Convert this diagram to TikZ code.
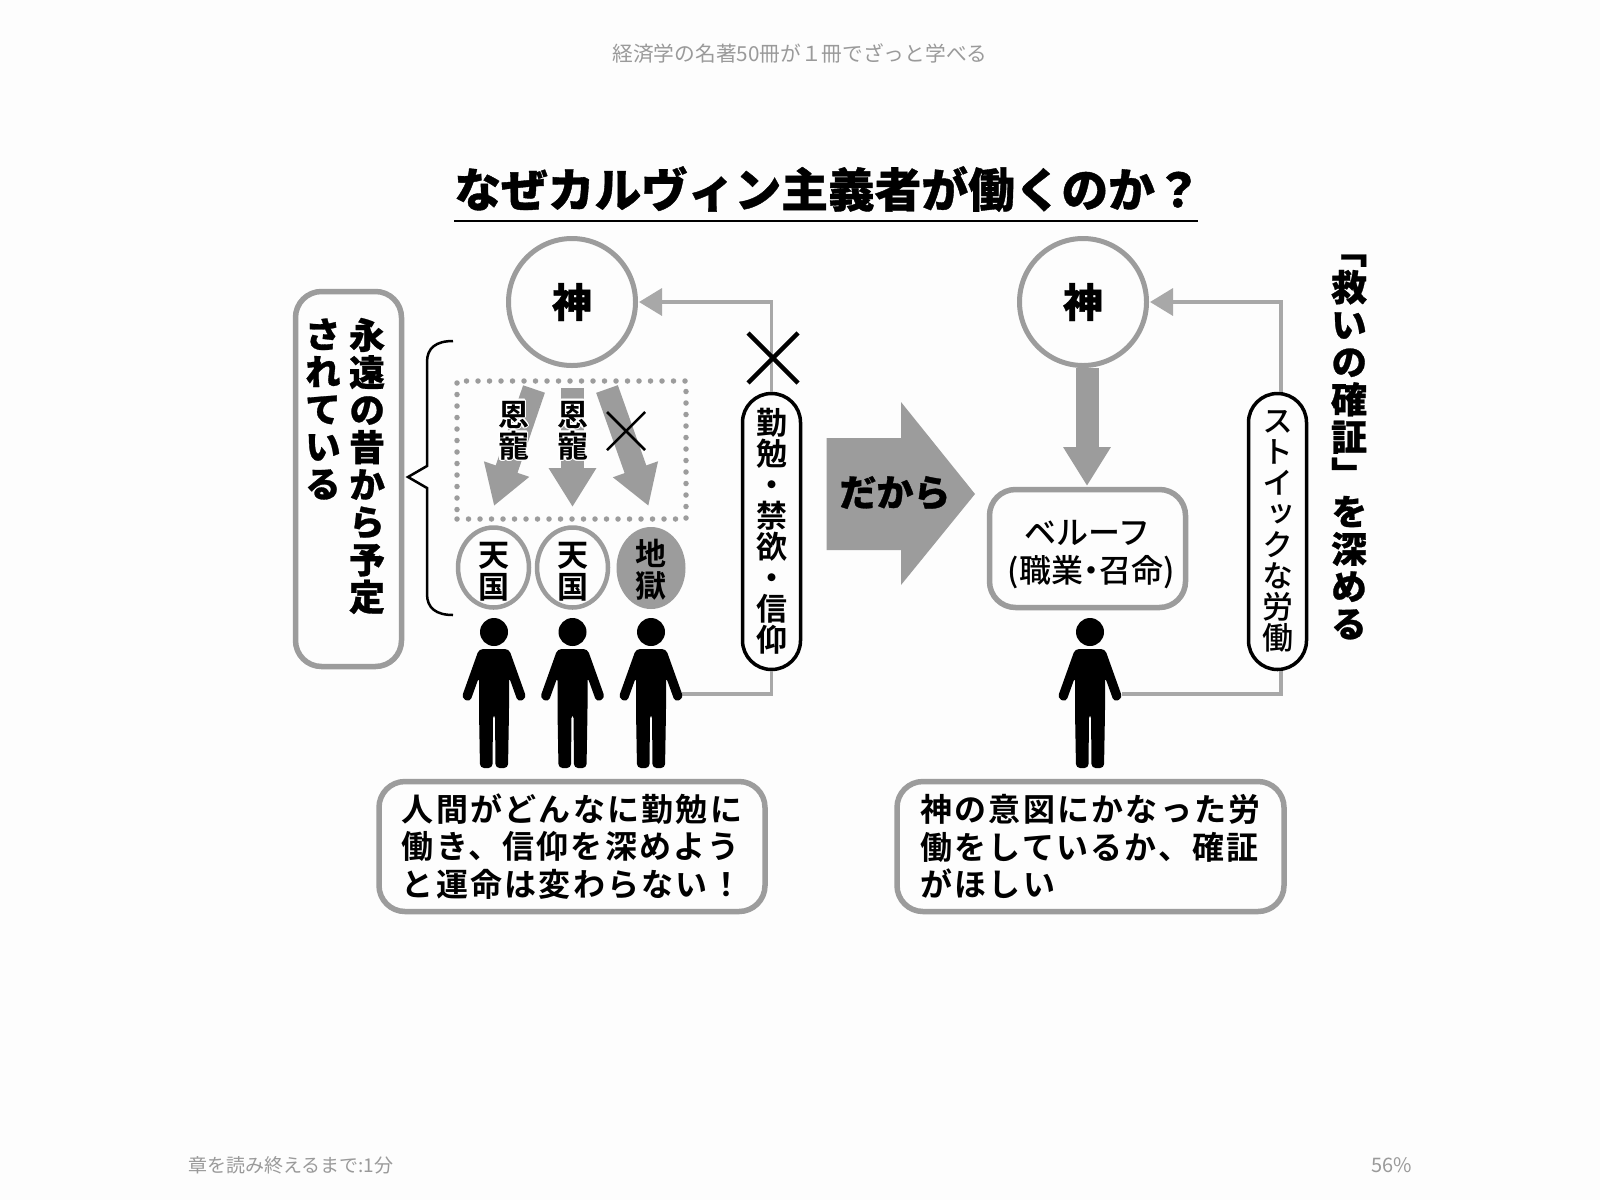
\documentclass[tikz,border=0pt]{standalone}
\usepackage{fontspec}
\usepackage[copies]{contour}
\usetikzlibrary{calc}
\usetikzlibrary{shapes.geometric}
\usepgflibrary{arrows.meta}
\newfontfamily\jpr{Noto Sans CJK JP}
\newfontfamily\jpm{Noto Sans CJK JP Medium}
\newfontfamily\jpw[LetterSpace=7]{Noto Sans CJK JP Bold}
\newfontfamily\jpk[FakeBold=0.8]{Noto Sans CJK JP Black}
\newfontfamily\jpmv[RawFeature={+vert}]{Noto Sans CJK JP Medium}
\newfontfamily\jpbv[RawFeature={+vert}]{Noto Sans CJK JP Bold}
\newfontfamily\jpkv[RawFeature={+vert},FakeBold=0.8]{Noto Sans CJK JP Black}
\definecolor{bgc}{HTML}{FDFDFD}
\definecolor{linec}{HTML}{9C9C9C}
\definecolor{thinc}{HTML}{A8A8A8}
\definecolor{pagec}{HTML}{9A9A9A}
\lineskiplimit=-1000pt
\contourlength{1.3pt}
\tikzset{
  pagelabel/.style={inner sep=0pt, text=pagec, font=\jpr\fontsize{20.7}{24}\selectfont},
  godcircle/.style={draw=linec, line width=5pt, circle, fill=bgc, minimum size=127pt, inner sep=0pt, font=\jpk\fontsize{40}{40}\selectfont},
  grayframe/.style={draw=linec, line width=5.5pt, rounded corners=26pt, inner sep=0pt},
  pillframe/.style={draw=black, line width=3.5pt, fill=bgc, rounded corners=29pt, minimum width=58pt, minimum height=276pt, inner sep=0pt, align=center, font=\jpbv\fontsize{31}{31}\selectfont},
  stacksmall/.style={inner sep=0pt, align=center, font=\jpbv\fontsize{31}{31}\selectfont},
  stackbig/.style={inner sep=0pt, align=center, font=\jpkv\fontsize{36}{37.4}\selectfont},
  heavenoval/.style={draw=linec, line width=4.5pt, ellipse, fill=bgc, minimum width=71pt, minimum height=80pt, inner xsep=0pt, inner ysep=-12pt, align=center, font=\jpbv\fontsize{31}{31.5}\selectfont},
  blockarrow/.style={draw=linec, line width=23pt, -{Triangle[length=39pt,width=45pt]}},
  thinarrow/.style={draw=thinc, line width=3.5pt, -{Triangle[length=23pt,width=27pt]}, shorten >=1pt},
  thinline/.style={draw=thinc, line width=3.5pt},
  person/.pic={
    \path[fill=black] (0, -17) circle[radius=14pt];
    \path[fill=black, rounded corners=4pt] (-15, 0) -- (15, 0) -- (32.5, 49) -- (24, 53) -- (15, 28) -- (15, 62) -- (14, 119) -- (1.5, 119) -- (1, 65) -- (-1, 65) -- (-1.5, 119) -- (-14, 119) -- (-15, 62) -- (-15, 28) -- (-24, 53) -- (-32.5, 49) -- cycle;
  }
}

\begin{document}
\begin{tikzpicture}[x=1pt, y=-1pt]
    \path[use as bounding box, fill=bgc] (0, 0) rectangle (1600, 1200);

    \node[pagelabel] (pagetitle) at (800, 54) {経済学の名著50冊が１冊でざっと学べる};
    \node[pagelabel, anchor=west, font=\jpr\fontsize{19}{24}\selectfont] (pageleft) at (188, 1165) {章を読み終えるまで:1分};
    \node[pagelabel, anchor=east, font=\jpr\fontsize{20}{24}\selectfont] (pageright) at (1412, 1165) {56\%};

    \node[inner sep=0pt, font=\jpk\fontsize{46.7}{47}\selectfont] (heading) at (828, 189) {なぜカルヴィン主義者が働くのか？};
    \path[draw, line width=2pt] (454, 220.5) -- (1198, 220.5);

    \coordinate (armleft) at (682, 694);
    \coordinate (armright) at (1122, 694);

    \node[godcircle] (godleft) at (572, 302) {神};
    \node[godcircle] (godright) at (1083, 302) {神};

    \node[pillframe] (pillleft) at (771.5, 531.5) {勤\\勉\\・\\禁\\欲\\・\\信\\仰};
    \node[pillframe, font=\jpmv\fontsize{31}{31}\selectfont] (pillright) at (1277.5, 531.5) {ス\\ト\\イ\\ッ\\ク\\な\\労\\働};

    \path[thinarrow] (771.5, 392) |- (godleft.east);
    \path[thinarrow] (1281, 392) |- (godright.east);
    \path[thinline] (armleft) -| (pillleft.south);
    \path[thinline] (armright) -| (1281, 671);

    \path[draw, line width=4.5pt] (773, 358) +(-25, -25) -- +(25, 25) +(-25, 25) -- +(25, -25);

    \node[grayframe, minimum width=106pt, minimum height=375pt] (eternalbox) at (348.5, 479) {};
    \node[stackbig] (eternalone) at (367, 466) {永\\遠\\の\\昔\\か\\ら\\予\\定};
    \node[stackbig] (eternaltwo) at (323, 409) {さ\\れ\\て\\い\\る};

    \path[draw, line width=2.5pt] (453, 341) .. controls (436, 341) and (427, 348) .. (427, 362) -- (427, 466) -- (408, 477) -- (427, 488) -- (427, 594) .. controls (427, 608) and (436, 615) .. (453, 615);

    \node[draw=linec, line width=5.5pt, line cap=round, dash pattern=on 0pt off 11.5pt, minimum width=229pt, minimum height=138pt, inner sep=0pt] (gracebox) at (571.5, 450) {};

    \coordinate (graceatop) at (534, 389);
    \coordinate (graceatip) at (494, 506);
    \coordinate (gracebtop) at (572.5, 388);
    \coordinate (gracebtip) at (572.5, 507);
    \coordinate (gracectop) at (607, 389);
    \coordinate (gracectip) at (648.5, 506);
    \path[blockarrow] (graceatop) -- (graceatip);
    \path[blockarrow] (gracebtop) -- (gracebtip);
    \path[blockarrow] (gracectop) -- (gracectip);

    \node[stacksmall] (gracea) at (513.5, 431) {\contour{white}{恩}\\\contour{white}{寵}};
    \node[stacksmall] (graceb) at (572.5, 431) {\contour{white}{恩}\\\contour{white}{寵}};
    \path[draw, line width=2.5pt] (626, 431) +(-19, -19) -- +(19, 19) +(-19, 19) -- +(19, -19);

    \node[heavenoval] (heavena) at (493.5, 567.5) {\rule{0pt}{33pt}天\\国};
    \node[heavenoval] (heavenb) at (572.5, 567.5) {\rule{0pt}{33pt}天\\国};
    \node[heavenoval, draw=none, fill=linec, minimum width=69pt, minimum height=82pt] (hell) at (651, 568) {\rule{0pt}{30pt}地\\獄};

    \path (494, 649) pic {person};
    \path (572.5, 649) pic {person};
    \path (651, 649) pic {person};
    \path (1090, 649) pic {person};

    \node[grayframe, minimum width=386pt, minimum height=130pt, align=left, font=\jpw\fontsize{32}{37.5}\selectfont] (noteleft) at (572, 846.5) {人間がどんなに勤勉に\\働き、信仰を深めよう\\と運命は変わらない！};
    \node[grayframe, minimum width=387pt, minimum height=130pt, align=left, font=\jpw\fontsize{32}{37.5}\selectfont] (noteright) at (1090.5, 846.5) {神の意図にかなった労\\働をしているか、確証\\がほしい};

    \path[fill=linec] (826.5, 438) -- (901, 438) -- (901, 402) -- (975, 494) -- (901, 585) -- (901, 550) -- (826.5, 550) -- cycle;
    \node[inner sep=0pt, font=\jpk\fontsize{37}{37}\selectfont] (therefore) at (895, 493) {だから};

    \path[blockarrow] ($(godright.south) + (4, 0)$) -- (1087, 486);
    \node[grayframe, minimum width=196pt, minimum height=118pt, align=center, font=\jpm\fontsize{32}{38}\selectfont] (beruf) at (1087.5, 548.5) {\rule{0pt}{36pt}ベルーフ\\\addfontfeature{RawFeature=+palt}\hspace{7pt}(職業・召命)};

    \node[stackbig] (salvation) at (1349, 447) {「\\救\\い\\の\\確\\証\\」\\を\\深\\め\\る};
  \end{tikzpicture}
\end{document}
